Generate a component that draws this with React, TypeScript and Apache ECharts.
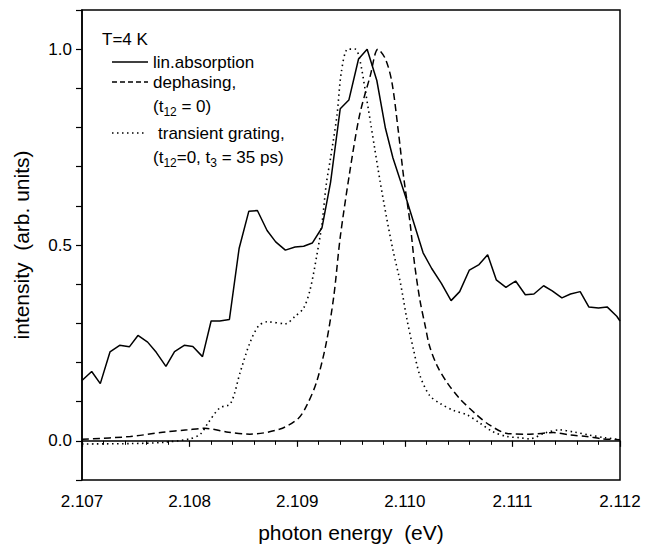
import React, { useEffect, useRef } from "react";
import * as echarts from "echarts";

// photon energy (eV) and normalized intensity
const energyLin = [
  2.107, 2.10709, 2.10717, 2.10726, 2.10735, 2.10744, 2.10752, 2.10761, 2.10769, 2.10778,
  2.10786, 2.10795, 2.10803, 2.10812, 2.1082, 2.10828, 2.10837, 2.10846, 2.10855, 2.10863,
  2.10872, 2.1088, 2.10889, 2.10898, 2.10906, 2.10914, 2.10923, 2.10931, 2.1094, 2.10948,
  2.10957, 2.10965, 2.10974, 2.10982, 2.10989, 2.11002, 2.11017, 2.11025, 2.11034, 2.11043,
  2.11051, 2.1106, 2.11069, 2.11077, 2.11085, 2.11094, 2.11103, 2.11112, 2.1112, 2.11129,
  2.11137, 2.11146, 2.11154, 2.11163, 2.11171, 2.1118, 2.11188, 2.11197, 2.112,
];
const linAbsorption = [
  0.154, 0.177, 0.146, 0.227, 0.244, 0.24, 0.269, 0.252, 0.226, 0.19,
  0.228, 0.244, 0.241, 0.215, 0.306, 0.306, 0.31, 0.491, 0.586, 0.588,
  0.537, 0.508, 0.487, 0.495, 0.497, 0.505, 0.544, 0.66, 0.848, 0.87,
  0.975, 1.0, 0.92, 0.798, 0.722, 0.613, 0.48, 0.44, 0.402, 0.358,
  0.381, 0.436, 0.45, 0.475, 0.411, 0.392, 0.408, 0.373, 0.375, 0.396,
  0.383, 0.365, 0.375, 0.381, 0.342, 0.339, 0.342, 0.318, 0.306,
];

const energyDeph = [
  2.107, 2.10745, 2.10775, 2.10798, 2.10814, 2.10836, 2.10856, 2.10884, 2.10901, 2.10909,
  2.10918, 2.10927, 2.10934, 2.1094, 2.10949, 2.10958, 2.10968, 2.10975, 2.10982, 2.10988,
  2.10994, 2.10999, 2.11005, 2.11009, 2.11014, 2.11019, 2.11023, 2.1103, 2.11039, 2.11051,
  2.11067, 2.11079, 2.11095, 2.11116, 2.11138, 2.11154, 2.11169, 2.11184, 2.112,
];
const dephasing = [
  0.004, 0.011, 0.022, 0.028, 0.032, 0.022, 0.017, 0.03, 0.057, 0.091,
  0.15, 0.25, 0.369, 0.52, 0.689, 0.832, 0.933, 1.0, 0.975, 0.916,
  0.79, 0.672, 0.554, 0.453, 0.36, 0.293, 0.242, 0.192, 0.15, 0.108,
  0.066, 0.04, 0.019, 0.017, 0.021, 0.015, 0.011, 0.005, 0.003,
];

const energyTG = [
  2.107, 2.10745, 2.10775, 2.108, 2.1081, 2.10817, 2.10828, 2.10838, 2.10847, 2.10856,
  2.10864, 2.10872, 2.10889, 2.10898, 2.10906, 2.10912, 2.10918, 2.10923, 2.10927, 2.10931,
  2.10937, 2.10941, 2.10947, 2.10954, 2.10958, 2.10963, 2.10968, 2.10972, 2.10977, 2.10983,
  2.10989, 2.10996, 2.11002, 2.11008, 2.11014, 2.11023, 2.11033, 2.11045, 2.11058, 2.1107,
  2.11082, 2.11095, 2.11107, 2.11116, 2.1113, 2.11144, 2.11158, 2.11171, 2.11186, 2.112,
];
const transientGrating = [
  -0.008, -0.007, -0.004, 0.005, 0.017, 0.045, 0.084, 0.095, 0.175, 0.25,
  0.293, 0.304, 0.299, 0.318, 0.339, 0.386, 0.47, 0.554, 0.655, 0.722,
  0.832, 0.941, 1.0, 1.0, 0.975, 0.899, 0.815, 0.747, 0.663, 0.571,
  0.487, 0.402, 0.31, 0.234, 0.167, 0.116, 0.095, 0.078, 0.066, 0.045,
  0.023, 0.011, 0.008, 0.005, 0.02, 0.028, 0.022, 0.015, 0.008, 0.003,
];

const yLabelValues = [0, 0.5, 1.0];

const FONT = "'Liberation Sans', Arial, Helvetica, sans-serif";

export default function App() {
  const ref = useRef<HTMLDivElement>(null);
  useEffect(() => {
    if (!ref.current) return;
    const chart = echarts.init(ref.current, null, { renderer: "svg" });
    const pair = (xs: number[], ys: number[]) => xs.map((x, i) => [x, ys[i]]);
    const legendText = (x: number, y: number, text: string) => ({
      type: "text",
      x,
      y,
      style: {
        text,
        fontFamily: FONT,
        fontSize: 17,
        fill: "#000",
        lineHeight: 24,
        verticalAlign: "middle",
        rich: {
          sub: {
            fontFamily: FONT,
            fontSize: 12,
            lineHeight: 12,
            verticalAlign: "bottom",
            fill: "#000",
          },
        },
      },
    });
    chart.setOption({
      animation: false,
      backgroundColor: "#fff",
      grid: {
        left: 82,
        right: 45,
        top: 10,
        bottom: 62,
        show: true,
        borderColor: "#000",
        borderWidth: 1.5,
        backgroundColor: "transparent",
      },
      xAxis: {
        type: "value",
        min: 2.107,
        max: 2.112,
        interval: 0.001,
        name: "photon energy  (eV)",
        nameLocation: "middle",
        nameGap: 42,
        nameTextStyle: { fontFamily: FONT, fontSize: 21, color: "#000" },
        axisLine: { lineStyle: { color: "#000", width: 1.5 } },
        axisTick: { length: 6, lineStyle: { color: "#000", width: 1.2 } },
        minorTick: { show: true, splitNumber: 5, length: 4, lineStyle: { color: "#000", width: 1 } },
        splitLine: { show: false },
        axisLabel: {
          fontFamily: FONT,
          fontSize: 17,
          color: "#000",
          margin: 13,
          formatter: (v: number) => v.toFixed(3),
        },
      },
      yAxis: {
        type: "value",
        min: -0.1,
        max: 1.1,
        interval: 0.1,
        name: "intensity  (arb. units)",
        nameLocation: "middle",
        nameGap: 50,
        nameTextStyle: { fontFamily: FONT, fontSize: 21, color: "#000" },
        axisLine: { lineStyle: { color: "#000", width: 1.5 } },
        axisTick: { length: 6, lineStyle: { color: "#000", width: 1.2 } },
        splitLine: { show: false },
        axisLabel: {
          fontFamily: FONT,
          fontSize: 17,
          color: "#000",
          margin: 10,
          formatter: (v: number) =>
            yLabelValues.some((t) => Math.abs(t - v) < 1e-6) ? v.toFixed(1) : "",
        },
      },
      series: [
        {
          name: "lin.absorption",
          type: "line",
          data: pair(energyLin, linAbsorption),
          showSymbol: false,
          lineStyle: { color: "#000", width: 1.5 },
        },
        {
          name: "dephasing",
          type: "line",
          data: pair(energyDeph, dephasing),
          showSymbol: false,
          smooth: 0.3,
          lineStyle: { color: "#000", width: 1.5, type: [7, 4] },
        },
        {
          name: "transient grating",
          type: "line",
          data: pair(energyTG, transientGrating),
          showSymbol: false,
          smooth: 0.3,
          lineStyle: { color: "#000", width: 1.6, type: [1.5, 3.5] },
        },
      ],
      graphic: [
        legendText(102, 39, "T=4 K"),
        { type: "line", shape: { x1: 112, y1: 62, x2: 148, y2: 62 }, style: { stroke: "#000", lineWidth: 1.3 } },
        legendText(153, 62, "lin.absorption"),
        { type: "line", shape: { x1: 112, y1: 82, x2: 148, y2: 82 }, style: { stroke: "#000", lineWidth: 1.3, lineDash: [5, 3] } },
        legendText(153, 82, "dephasing,"),
        legendText(153, 106, "(t{sub|12} = 0)"),
        { type: "line", shape: { x1: 112, y1: 133, x2: 146, y2: 133 }, style: { stroke: "#000", lineWidth: 1.4, lineDash: [1.5, 3.5] } },
        legendText(158, 133, "transient grating,"),
        legendText(153, 157, "(t{sub|12}=0, t{sub|3} = 35 ps)"),
      ],
    });
    return () => chart.dispose();
  }, []);
  return (
    <div
      ref={ref}
      style={{ position: "fixed", left: 0, top: 0, width: 665, height: 548, background: "#fff" }}
    />
  );
}
